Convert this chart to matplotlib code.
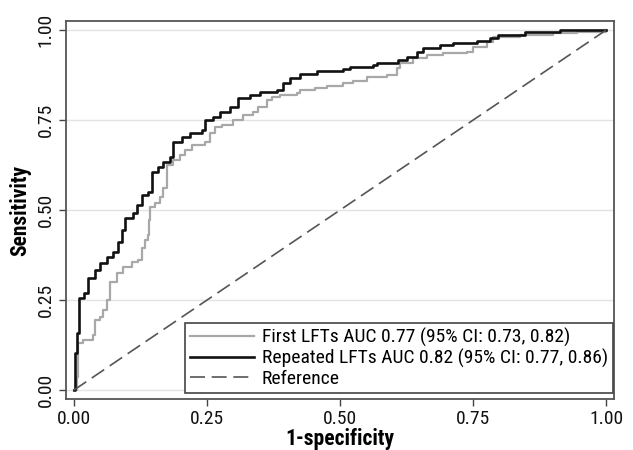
import matplotlib

matplotlib.use("Agg")
import matplotlib.pyplot as plt
from matplotlib import font_manager

# ROC points (1-specificity, sensitivity)
first_fpr = [0.0, 0.002, 0.006, 0.008, 0.017, 0.036, 0.039, 0.049, 0.055, 0.062,
             0.068, 0.081, 0.092, 0.109, 0.120, 0.128, 0.133, 0.139, 0.141, 0.143,
             0.152, 0.162, 0.167, 0.175, 0.186, 0.199, 0.209, 0.222, 0.246, 0.256,
             0.265, 0.278, 0.299, 0.318, 0.336, 0.346, 0.363, 0.372, 0.387, 0.419,
             0.425, 0.453, 0.476, 0.506, 0.524, 0.551, 0.588, 0.607, 0.613, 0.637,
             0.664, 0.694, 0.739, 0.750, 0.776, 0.788, 0.838, 0.900, 0.945, 1.0]
first_tpr = [0.0, 0.0, 0.036, 0.131, 0.139, 0.153, 0.194, 0.203, 0.222, 0.250,
             0.300, 0.325, 0.342, 0.356, 0.361, 0.394, 0.417, 0.431, 0.472, 0.508,
             0.519, 0.536, 0.561, 0.625, 0.639, 0.653, 0.667, 0.681, 0.689, 0.714,
             0.731, 0.736, 0.750, 0.764, 0.772, 0.786, 0.806, 0.814, 0.819, 0.825,
             0.833, 0.839, 0.844, 0.853, 0.858, 0.869, 0.875, 0.894, 0.908, 0.922,
             0.931, 0.936, 0.939, 0.953, 0.967, 0.981, 0.986, 0.992, 0.994, 1.0]

repeated_fpr = [0.0, 0.002, 0.006, 0.009, 0.019, 0.026, 0.039, 0.049, 0.062, 0.073,
                0.083, 0.090, 0.096, 0.111, 0.118, 0.128, 0.139, 0.147, 0.158, 0.167,
                0.180, 0.186, 0.203, 0.218, 0.241, 0.246, 0.261, 0.274, 0.293, 0.308,
                0.331, 0.350, 0.382, 0.393, 0.406, 0.425, 0.457, 0.506, 0.519, 0.562,
                0.570, 0.609, 0.626, 0.645, 0.656, 0.688, 0.712, 0.758, 0.782, 0.797,
                0.848, 0.914, 1.0]
repeated_tpr = [0.0, 0.103, 0.158, 0.256, 0.269, 0.311, 0.333, 0.353, 0.369, 0.383,
                0.411, 0.444, 0.478, 0.492, 0.514, 0.542, 0.550, 0.606, 0.619, 0.633,
                0.647, 0.689, 0.703, 0.714, 0.722, 0.750, 0.758, 0.772, 0.786, 0.811,
                0.819, 0.828, 0.833, 0.853, 0.867, 0.878, 0.886, 0.892, 0.897, 0.903,
                0.908, 0.917, 0.925, 0.939, 0.950, 0.958, 0.964, 0.969, 0.978, 0.986,
                0.994, 1.0, 1.0]

ticks = [0.0, 0.25, 0.5, 0.75, 1.0]
tick_labels = ["0.00", "0.25", "0.50", "0.75", "1.00"]
labels = [
    "First LFTs AUC 0.77 (95% CI: 0.73, 0.82)",
    "Repeated LFTs AUC 0.82 (95% CI: 0.77, 0.86)",
    "Reference",
]

FONT_CHOICES = ["Roboto Condensed", "Archivo Narrow", "Liberation Sans Narrow", "Liberation Sans"]


def pick_font() -> list[str]:
    installed = {font.name for font in font_manager.fontManager.ttflist}
    chosen = [name for name in FONT_CHOICES if name in installed]
    return chosen[:1] + ["DejaVu Sans"]


def main() -> None:
    plt.rcParams["font.family"] = pick_font()
    figure = plt.figure(figsize=(6.33, 4.5), dpi=100)
    axis = figure.add_axes([0.104, 0.113, 0.866, 0.840])

    for y in ticks:
        axis.axhline(y, color="#e3e3e3", linewidth=1.0, zorder=0)

    axis.plot(first_fpr, first_tpr, drawstyle="steps-post", color="#a8a8a8",
              linewidth=1.6, label=labels[0])
    axis.plot(repeated_fpr, repeated_tpr, drawstyle="steps-post", color="#111111",
              linewidth=1.9, label=labels[1])
    axis.plot([0, 1], [0, 1], color="#555555", linewidth=1.2,
              dashes=(9, 4), label=labels[2])

    axis.set_xlim(-0.015, 1.015)
    axis.set_ylim(-0.025, 1.025)
    axis.set_xticks(ticks)
    axis.set_xticklabels(tick_labels)
    axis.set_yticks(ticks)
    axis.set_yticklabels(tick_labels, rotation=90, va="center")
    axis.tick_params(axis="both", direction="out", length=5, width=1.0,
                     color="#444444", labelsize=14, labelcolor="#111111", pad=3)
    for spine in axis.spines.values():
        spine.set_color("#555555")
        spine.set_linewidth(1.3)

    axis.set_xlabel("1-specificity", fontsize=15.5, fontweight="bold", labelpad=0)
    axis.set_ylabel("Sensitivity", fontsize=15.5, fontweight="bold", labelpad=4)

    legend = axis.legend(loc="lower right", bbox_to_anchor=(0.998, 0.016),
                         borderaxespad=0, fontsize=14, frameon=True, fancybox=False,
                         handlelength=3.3, handletextpad=0.4, labelspacing=0.1,
                         borderpad=0.25)
    legend.get_frame().set_edgecolor("#444444")
    legend.get_frame().set_linewidth(1.2)
    legend.get_frame().set_alpha(1.0)

    figure.savefig("out.png", dpi=100)
    plt.close(figure)


if __name__ == "__main__":
    main()
